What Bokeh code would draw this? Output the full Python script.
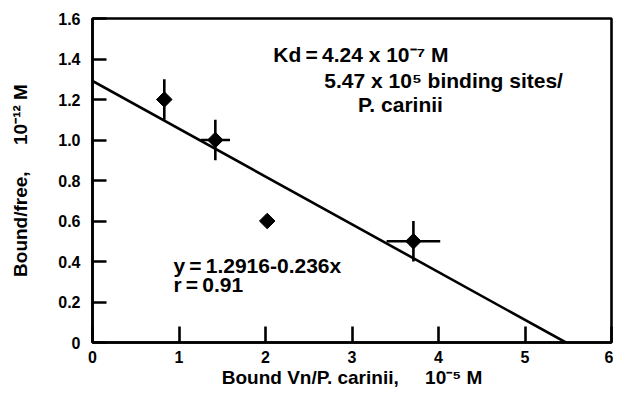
import math
from bokeh.plotting import figure
from bokeh.models import Label, FixedTicker, ColumnDataSource
from bokeh.embed import file_html
from bokeh.resources import INLINE

# Data
bound_x = [0.83, 1.42, 2.02, 3.71]
bound_free_y = [1.20, 1.00, 0.60, 0.50]
x_err = [0.0, 0.17, 0.07, 0.31]
y_err = [0.10, 0.10, 0.0, 0.10]
intercept = 1.2916
slope = -0.236
x_ticks = [0, 1, 2, 3, 4, 5, 6]
y_ticks = [0, 0.2, 0.4, 0.6, 0.8, 1.0, 1.2, 1.4, 1.6]
y_tick_labels = ["0", "0.2", "0.4", "0.6", "0.8", "1.0", "1.2", "1.4", "1.6"]

FONT = "Liberation Sans"
LW = 2.6
SP = "\u00a0"
TS = "\u2009"

p = figure(width=613, height=390, output_backend="svg", toolbar_location=None,
           x_range=(0, 6), y_range=(0, 1.6),
           min_border_left=92, min_border_right=2, min_border_top=18, min_border_bottom=30)
p.grid.visible = False
p.outline_line_color = "black"
p.outline_line_width = LW
p.background_fill_color = "white"
p.border_fill_color = "white"

for ax in (p.xaxis[0], p.yaxis[0]):
    ax.axis_line_width = LW
    ax.major_tick_line_width = LW
    ax.major_tick_out = 0
    ax.minor_tick_line_color = None
    ax.major_label_text_font = FONT
    ax.major_label_text_font_style = "bold"
    ax.major_label_text_font_size = "16px"
    ax.major_label_text_color = "black"
    ax.axis_label_text_font = FONT
    ax.axis_label_text_font_style = "bold"
    ax.axis_label_text_font_size = "19px"
    ax.axis_label_text_color = "black"

p.xaxis.ticker = FixedTicker(ticks=x_ticks)
p.xaxis.major_tick_in = 16
p.xaxis.major_label_standoff = 8
p.xaxis.axis_label = "Bound Vn/P. carinii," + SP * 5 + "10\u207b\u2075 M"
p.xaxis.axis_label_standoff = 1

p.yaxis.ticker = FixedTicker(ticks=y_ticks)
p.yaxis.major_label_overrides = {t: l for t, l in zip(y_ticks, y_tick_labels)}
p.yaxis.major_tick_in = 14
p.yaxis.major_label_standoff = 12
p.yaxis.axis_label = "Bound/free," + SP * 5 + "10\u207b\u00b9\u00b2 M"
p.yaxis.axis_label_standoff = 24

# Regression line
x_end = -intercept / slope
p.line([0, x_end], [intercept, intercept + slope * x_end], line_color="black", line_width=LW)

# Error bars
src = ColumnDataSource(dict(
    x=bound_x, y=bound_free_y,
    x0=[x - e for x, e in zip(bound_x, x_err)], x1=[x + e for x, e in zip(bound_x, x_err)],
    y0=[y - e for y, e in zip(bound_free_y, y_err)], y1=[y + e for y, e in zip(bound_free_y, y_err)],
))
p.segment(x0="x0", y0="y", x1="x1", y1="y", source=src, line_color="black", line_width=LW)
p.segment(x0="x", y0="y0", x1="x", y1="y1", source=src, line_color="black", line_width=LW)
p.scatter(x="x", y="y", source=src, marker="square", size=11, angle=math.pi / 4,
          fill_color="black", line_color="black")

def lab(x, y, text, size="21px"):
    p.add_layout(Label(x=x, y=y, text=text, text_font=FONT, text_font_size=size,
                       text_font_style="bold", text_color="black",
                       text_baseline="alphabetic", text_align="left"))

lab(2.09, 1.42, "Kd" + TS + "=" + TS + "4.24 x 10\u207b\u2077 M")
lab(2.68, 1.293, "5.47 x 10\u2075" + SP + "binding sites/")
lab(3.07, 1.176, "P. carinii")
lab(0.935, 0.38, "y" + TS + "=" + TS + "1.2916-0.236x")
lab(0.935, 0.288, "r" + TS + "=" + TS + "0.91")

open("out.html", "w").write(file_html(p, INLINE))
